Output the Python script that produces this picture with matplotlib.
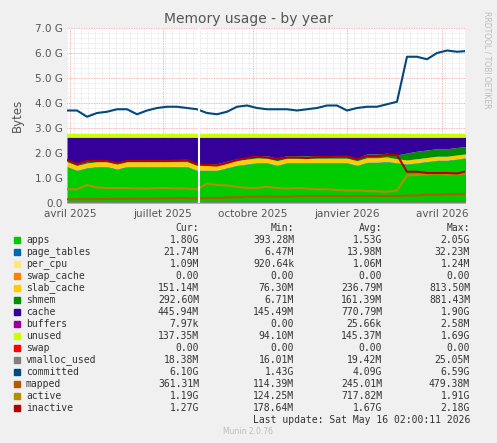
import matplotlib
matplotlib.use("Agg")
import matplotlib.pyplot as plt
import numpy as np

# x in "plot pixel days" (0..398)
x = np.arange(0, 401, 10)
gap_x = 132
month_ticks = [3, 96, 186, 280, 375]
month_labels = ["avril 2025", "juillet 2025", "octobre 2025", "janvier 2026", "avril 2026"]

apps = [1.45,1.30,1.40,1.45,1.45,1.35,1.45,1.45,1.45,1.45,
        1.45,1.45,1.45,1.30,1.30,1.30,1.40,1.50,1.55,1.60,
        1.60,1.50,1.60,1.60,1.60,1.60,1.60,1.60,1.60,1.50,
        1.62,1.62,1.65,1.60,1.55,1.60,1.65,1.70,1.70,1.75,1.80]
page_tables = [0.02]*41
per_cpu = [0.001]*41
swap_cache = [0.0]*41
slab_cache = [0.18]*20 + [0.17]*13 + [0.15]*8
shmem = [0.05]*10 + [0.07]*10 + [0.10]*10 + [0.15]*4 + [0.28,0.30,0.30,0.30,0.30,0.30,0.29]
cache_top = [2.63]*41
unused = [0.12]*41
swap = [0.0]*41
vmalloc_used = [0.018]*41
committed = [3.70,3.70,3.45,3.60,3.65,3.75,3.75,3.55,3.70,3.80,
             3.85,3.85,3.80,3.75,3.60,3.55,3.65,3.85,3.90,3.80,
             3.75,3.75,3.75,3.70,3.75,3.80,3.90,3.90,3.70,3.80,
             3.85,3.85,3.95,4.05,5.85,5.85,5.75,6.00,6.10,6.05,6.08]
mapped = [0.15,0.15,0.15,0.15,0.16,0.17,0.17,0.18,0.18,0.18,
          0.19,0.20,0.20,0.18,0.20,0.20,0.22,0.23,0.25,0.25,
          0.26,0.25,0.25,0.27,0.28,0.28,0.28,0.28,0.27,0.28,
          0.28,0.28,0.28,0.28,0.30,0.30,0.33,0.33,0.35,0.35,0.36]
active = [0.55,0.55,0.72,0.62,0.60,0.60,0.60,0.58,0.58,0.60,
          0.60,0.58,0.58,0.55,0.78,0.72,0.70,0.65,0.60,0.60,
          0.65,0.60,0.58,0.60,0.58,0.55,0.55,0.52,0.50,0.50,
          0.48,0.47,0.45,0.50,1.10,1.12,1.15,1.18,1.15,1.15,1.19]
inactive = [1.72,1.55,1.68,1.68,1.68,1.60,1.68,1.68,1.68,1.68,
            1.68,1.70,1.72,1.55,1.52,1.50,1.60,1.72,1.80,1.85,
            1.82,1.75,1.82,1.82,1.80,1.84,1.84,1.86,1.86,1.75,
            1.88,1.88,1.92,1.92,1.25,1.25,1.20,1.20,1.20,1.18,1.27]

names = ["apps","page_tables","per_cpu","swap_cache","slab_cache","shmem","cache",
         "buffers","unused","swap","vmalloc_used","committed","mapped","active","inactive"]
colors = ["#00CC00","#0066B3","#FFE680","#FF8000","#FFCC00","#008F00","#330099",
          "#990099","#CCFF00","#FF0000","#808080","#00487D","#B35A00","#B38F00","#B30000"]
cur = ["1.80G","21.74M","1.09M","0.00","151.14M","292.60M","445.94M","7.97k","137.35M","0.00","18.38M","6.10G","361.31M","1.19G","1.27G"]
mn = ["393.28M","6.47M","920.64k","0.00","76.30M","6.71M","145.49M","0.00","94.10M","0.00","16.01M","1.43G","114.39M","124.25M","178.64M"]
avg = ["1.53G","13.98M","1.06M","0.00","236.79M","161.39M","770.79M","25.66k","145.37M","0.00","19.42M","4.09G","245.01M","717.82M","1.67G"]
mx = ["2.05G","32.23M","1.24M","0.00","813.50M","881.43M","1.90G","2.58M","1.69G","0.00","25.05M","6.59G","479.38M","1.91G","2.18G"]

fig = plt.figure(figsize=(4.97, 4.43), dpi=100, facecolor="#F0F0F0")
ax = fig.add_axes([67/497, 1-203/443, 398/497, 175/443])
ax.set_facecolor("white")

a = np.array(apps); pt = np.array(page_tables); pc = np.array(per_cpu); sc = np.array(swap_cache)
sl = np.array(slab_cache); sh = np.array(shmem)
base = a + pt + pc + sc + sl + sh
cache = np.array(cache_top) - base
buffers = np.full(41, 0.00001)
layers = [a, pt, pc, sc, sl, sh, cache, buffers, np.array(unused)]
bottom = np.zeros(41)
for i, ly in enumerate(layers):
    ax.fill_between(x, bottom, bottom + ly, color=colors[i], lw=0, zorder=2)
    bottom = bottom + ly
for i, ser in zip(range(9, 15), [swap, vmalloc_used, committed, mapped, active, inactive]):
    ax.plot(x, ser, color=colors[i], lw=1.5, zorder=3)
ax.axvline(gap_x, color="white", lw=1.5, zorder=4)

ax.set_xlim(0, 398); ax.set_ylim(0, 7)
ax.set_yticks(range(8))
ax.set_yticklabels(["0.0"] + [f"{v}.0 G" for v in range(1, 8)])
ax.set_yticks(np.arange(0, 7, 0.2), minor=True)
ax.set_xticks(month_ticks)
ax.set_xticklabels(month_labels)
ax.set_xticks(np.arange(0, 398, 7), minor=True)
ax.tick_params(length=0, which="both", labelsize=7.5, colors="#555555", pad=3)
ax.tick_params(axis="x", pad=4)
ax.grid(which="minor", color="#DDDDDD", ls=(0, (1, 1)), lw=0.5, zorder=1)
ax.grid(which="major", color="#F0A0A0", ls=(0, (1, 1)), lw=0.6, zorder=1)
ax.set_axisbelow(True)
for s in ax.spines.values():
    s.set_visible(False)
ax.set_ylabel("Bytes", color="#555555", fontsize=8.5, labelpad=8)

fig.text(248/497, 1-19/443, "Memory usage - by year", ha="center", va="center", fontsize=10, color="#555555")
fig.text(487/497, 1-60/443, "RRDTOOL / TOBI OETIKER", rotation=270, ha="center", va="center", fontsize=5.5, color="#BBBBBB")

mono = "DejaVu Sans Mono"
fs = 7
def ytop(p): return 1 - p/443
for lab, xr in zip(["Cur:", "Min:", "Avg:", "Max:"], [199, 294, 382, 470]):
    fig.text(xr/497, ytop(228), lab, ha="right", va="center", fontsize=fs, family=mono, color="#333333")
for i, n in enumerate(names):
    yy = ytop(240 + 12*i)
    fig.patches.append(plt.Rectangle((14/497, yy - 3/443), 6/497, 6/443, transform=fig.transFigure, color=colors[i]))
    fig.text(26/497, yy, n, ha="left", va="center", fontsize=fs, family=mono, color="#333333")
    for val, xr in zip([cur[i], mn[i], avg[i], mx[i]], [199, 294, 382, 470]):
        fig.text(xr/497, yy, val, ha="right", va="center", fontsize=fs, family=mono, color="#333333")
fig.text(470/497, ytop(420), "Last update: Sat May 16 02:00:11 2026", ha="right", va="center", fontsize=fs, family=mono, color="#333333")
fig.text(248/497, ytop(432), "Munin 2.0.76", ha="center", va="center", fontsize=5.5, color="#BBBBBB")

fig.savefig("out.png", dpi=100, facecolor=fig.get_facecolor())
